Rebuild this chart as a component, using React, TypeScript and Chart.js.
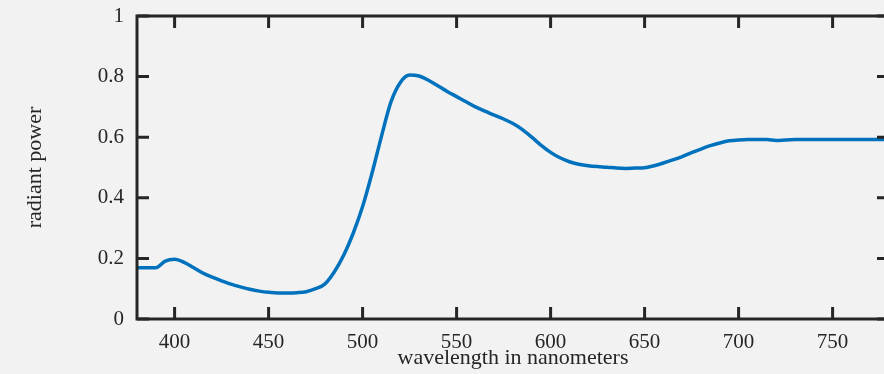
import React, { useEffect, useRef } from "react";
import { Chart, registerables } from "chart.js";

Chart.register(...registerables);

const wavelengths = [
  380, 385, 390, 395, 400, 405, 410, 415, 420, 425, 430, 435, 440, 445, 450, 455, 460, 465, 470, 475,
  480, 485, 490, 495, 500, 505, 510, 515, 520, 525, 530, 535, 540, 545, 550, 555, 560, 565, 570, 575,
  580, 585, 590, 595, 600, 605, 610, 615, 620, 625, 630, 635, 640, 645, 650, 655, 660, 665, 670, 675,
  680, 685, 690, 695, 700, 705, 710, 715, 720, 725, 730, 735, 740, 745, 750, 755, 760, 765, 770, 775, 780,
];

const radiantPower = [
  0.169, 0.169, 0.169, 0.191, 0.197, 0.187, 0.170, 0.152, 0.138, 0.126, 0.115, 0.106, 0.098, 0.092, 0.088, 0.086, 0.086, 0.087, 0.090, 0.100,
  0.116, 0.156, 0.211, 0.283, 0.371, 0.481, 0.602, 0.715, 0.780, 0.805, 0.802, 0.788, 0.770, 0.751, 0.734, 0.717, 0.700, 0.686, 0.673, 0.660,
  0.645, 0.625, 0.600, 0.573, 0.550, 0.532, 0.519, 0.511, 0.506, 0.503, 0.501, 0.498, 0.497, 0.498, 0.499, 0.506, 0.515, 0.525, 0.536, 0.549,
  0.561, 0.572, 0.581, 0.588, 0.591, 0.592, 0.592, 0.592, 0.589, 0.591, 0.592, 0.592, 0.592, 0.592, 0.592, 0.592, 0.592, 0.592, 0.592, 0.592, 0.592,
];

const xTickValues = [400, 450, 500, 550, 600, 650, 700, 750];
const yTickValues = [0, 0.2, 0.4, 0.6, 0.8, 1];

const xTitle = "wavelength in nanometers";
const yTitle = "radiant power";

const FONT = "'Liberation Serif', 'Times New Roman', serif";
const AXIS_COLOR = "#262626";
const TEXT_COLOR = "#262626";

const framePlugin = {
  id: "frameTicks",
  afterDatasetsDraw(chart: any) {
    const { ctx, chartArea } = chart;
    const xs = chart.scales.x;
    const ys = chart.scales.y;
    const { left, right, top, bottom } = chartArea;
    const tl = 12;
    ctx.save();
    ctx.strokeStyle = AXIS_COLOR;
    ctx.lineWidth = 3;
    ctx.lineCap = "butt";
    ctx.beginPath();
    xTickValues.forEach((v) => {
      const px = xs.getPixelForValue(v);
      ctx.moveTo(px, bottom);
      ctx.lineTo(px, bottom - tl);
      ctx.moveTo(px, top);
      ctx.lineTo(px, top + tl);
    });
    yTickValues.forEach((v) => {
      const py = ys.getPixelForValue(v);
      ctx.moveTo(left, py);
      ctx.lineTo(left + tl, py);
      ctx.moveTo(right, py);
      ctx.lineTo(right - tl, py);
    });
    ctx.stroke();
    ctx.lineJoin = "miter";
    ctx.strokeRect(left, top, right - left, bottom - top);
    ctx.restore();
  },
};

export default function App() {
  const canvasRef = useRef<HTMLCanvasElement | null>(null);

  useEffect(() => {
    if (!canvasRef.current) return;
    const chart = new Chart(canvasRef.current, {
      type: "line",
      data: {
        datasets: [
          {
            data: wavelengths.map((w, i) => ({ x: w, y: radiantPower[i] })),
            borderColor: "#0072BD",
            borderWidth: 3.5,
            pointRadius: 0,
            cubicInterpolationMode: "monotone",
            fill: false,
          },
        ],
      },
      options: {
        animation: false,
        responsive: false,
        devicePixelRatio: 1,
        layout: { padding: { left: 0, top: 16, right: 11, bottom: 0 } },
        plugins: { legend: { display: false }, tooltip: { enabled: false } },
        scales: {
          x: {
            type: "linear",
            min: 380,
            max: 780,
            grid: { display: false, drawTicks: false },
            border: { display: false },
            afterBuildTicks: (s: any) => {
              s.ticks = xTickValues.map((v) => ({ value: v }));
            },
            afterFit: (s: any) => {
              s.height = 55;
              s.paddingLeft = 0;
              s.paddingRight = 0;
              s.paddingTop = 0;
              s.paddingBottom = 0;
            },
            ticks: {
              padding: 11,
              maxRotation: 0,
              autoSkip: false,
              color: TEXT_COLOR,
              font: { family: FONT, size: 21 },
              callback: (v: any) => String(v),
            },
            title: {
              display: true,
              text: xTitle,
              color: TEXT_COLOR,
              font: { family: FONT, size: 22 },
              padding: { top: 0, bottom: 3 },
            },
          },
          y: {
            type: "linear",
            min: 0,
            max: 1,
            grid: { display: false, drawTicks: false },
            border: { display: false },
            afterBuildTicks: (s: any) => {
              s.ticks = yTickValues.map((v) => ({ value: v }));
            },
            afterFit: (s: any) => {
              s.width = 137;
              s.paddingLeft = 0;
              s.paddingRight = 0;
              s.paddingTop = 0;
              s.paddingBottom = 0;
            },
            ticks: {
              padding: 13,
              color: TEXT_COLOR,
              font: { family: FONT, size: 21 },
              callback: (v: any) => String(Number(Number(v).toFixed(1))),
            },
            title: {
              display: true,
              text: yTitle,
              color: TEXT_COLOR,
              font: { family: FONT, size: 22 },
              padding: { top: 22, bottom: 0 },
            },
          },
        },
      },
      plugins: [framePlugin],
    });
    return () => chart.destroy();
  }, []);

  return (
    <div
      style={{
        position: "fixed",
        left: 0,
        top: 0,
        width: 884,
        height: 374,
        overflow: "hidden",
        background: "#f2f2f2",
      }}
    >
      <canvas ref={canvasRef} width={900} height={374} style={{ display: "block", width: 900, height: 374 }} />
    </div>
  );
}
